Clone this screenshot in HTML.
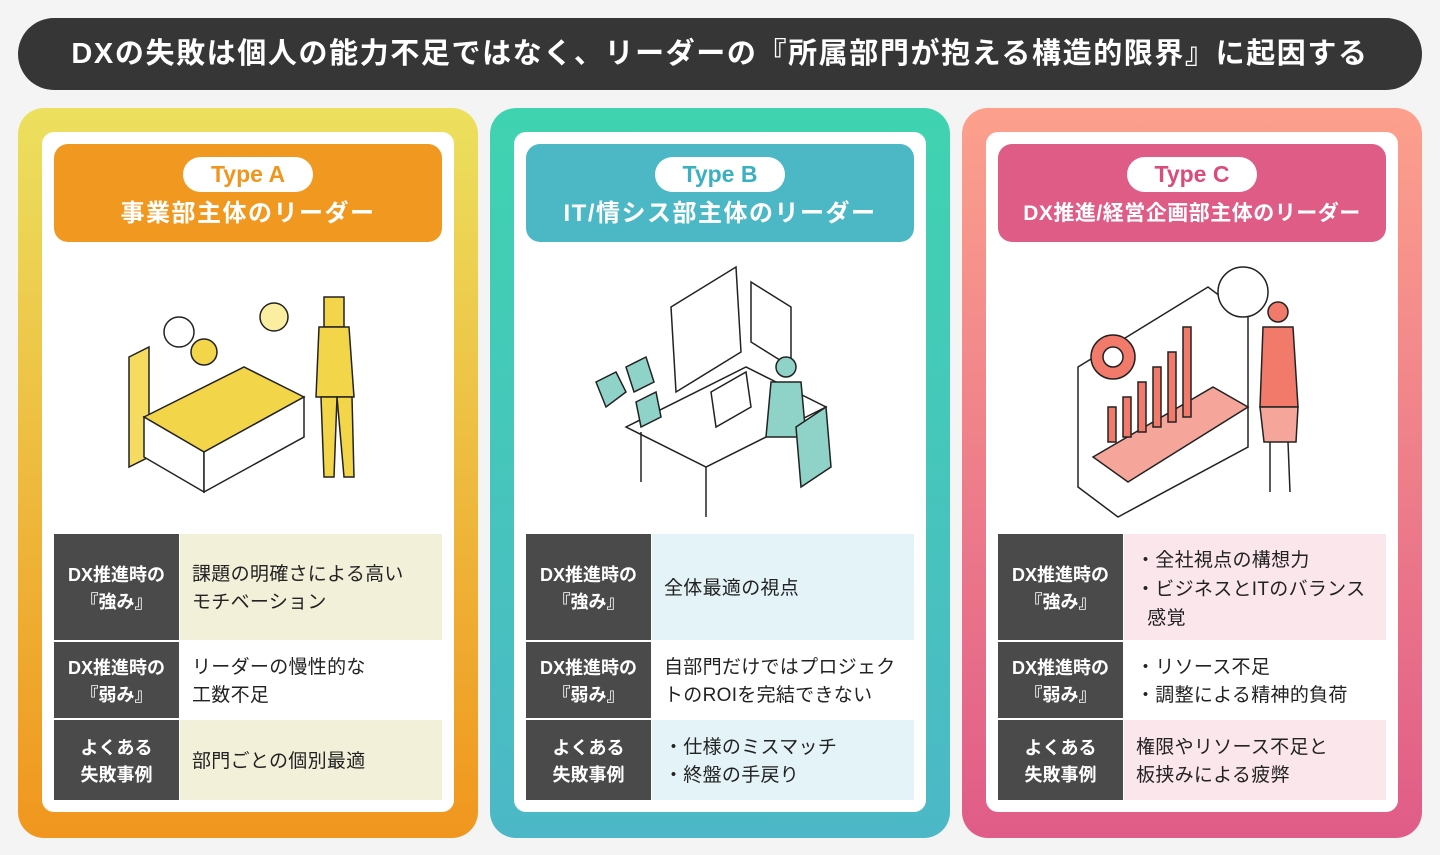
<!DOCTYPE html>
<html><head><meta charset="utf-8"><style>
*{box-sizing:border-box;margin:0;padding:0}
body{width:1440px;height:855px;background:#f4f4f4;font-family:"Liberation Sans","Noto Sans CJK JP",sans-serif;position:relative;overflow:hidden}
.title{position:absolute;left:18px;top:18px;width:1404px;height:72px;border-radius:36px;background:#363636;color:#fff;font-weight:bold;font-size:29px;text-align:center;line-height:72px;letter-spacing:1.6px}
.card{position:absolute;top:108px;width:460px;height:730px;border-radius:26px}
.inner{position:absolute;left:24px;top:24px;width:412px;height:680px;background:#fff;border-radius:12px}
.hd{position:absolute;left:12px;top:12px;width:388px;height:98px;border-radius:14px;color:#fff;text-align:center}
.pill{position:absolute;left:129px;top:13px;width:130px;height:35px;background:#fff;border-radius:18px;font-weight:bold;font-size:23px;line-height:35px}
.sub{position:absolute;left:0;right:0;top:55px;font-weight:bold;font-size:24px;line-height:30px;letter-spacing:1.5px;white-space:nowrap}
.row{position:absolute;left:12px;width:388px}
.l{position:absolute;left:0;top:0;bottom:0;width:125px;background:#4a4a4a;color:#fff;font-weight:bold;font-size:18px;line-height:27px;display:flex;align-items:center;justify-content:center;text-align:center;padding-top:4px}
.r{position:absolute;left:126px;right:0;top:0;bottom:0;font-size:19px;line-height:28px;color:#222;display:flex;align-items:center;padding-left:12px;padding-top:4px;letter-spacing:0.3px}
.ill{position:absolute;left:12px;top:125px;width:388px;height:265px}
</style></head><body>
<div class="title">DXの失敗は個人の能力不足ではなく、リーダーの『所属部門が抱える構造的限界』に起因する</div>

<div class="card" style="left:18px;background:linear-gradient(#ece05e,#f0961e)"><div class="inner">
<div class="hd" style="background:#f0981f"><div class="pill" style="color:#f0961e">Type A</div><div class="sub">事業部主体のリーダー</div></div>
<svg class="ill" viewBox="0 0 388 265">
<g stroke="#222" stroke-width="1.5" fill="#f3d54a">
<polygon points="75,100 95,90 95,200 75,210" fill="#f5dc60"/>
<polygon points="90,160 190,110 250,140 150,195"/>
<polygon points="90,160 150,195 150,235 90,200" fill="#fff"/>
<polygon points="150,195 250,140 250,180 150,235" fill="#fff"/>
<circle cx="125" cy="75" r="15" fill="#fff"/><circle cx="150" cy="95" r="13" fill="#f3d54a"/>
<circle cx="220" cy="60" r="14" fill="#fbeea0"/>
<rect x="270" y="40" width="20" height="30" fill="#f3d54a"/>
<polygon points="265,70 295,70 300,140 262,140" fill="#f3d54a"/>
<polygon points="267,140 283,140 280,220 270,220" fill="#f3d54a"/>
<polygon points="283,140 298,140 300,220 290,220" fill="#f3d54a"/>
</g></svg>
</div></div>

<div class="card" style="left:490px;background:linear-gradient(#3fd3b0,#4cb8c7)"><div class="inner">
<div class="hd" style="background:#4cb8c6"><div class="pill" style="color:#3ab0c0">Type B</div><div class="sub">IT/情シス部主体のリーダー</div></div>
<svg class="ill" viewBox="0 0 388 265">
<g stroke="#222" stroke-width="1.5" fill="#fff">
<polygon points="145,50 210,10 215,95 150,135"/>
<polygon points="225,25 265,50 265,110 225,85"/>
<polygon points="100,170 220,110 300,150 180,210"/>
<line x1="115" y1="175" x2="115" y2="225"/><line x1="180" y1="210" x2="180" y2="260"/><line x1="290" y1="155" x2="290" y2="205"/>
<polygon points="185,135 220,115 225,150 190,170" fill="#fff"/>
<circle cx="260" cy="110" r="10" fill="#8fd3c8"/>
<polygon points="245,125 275,125 280,180 240,180" fill="#8fd3c8"/>
<polygon points="270,170 300,150 305,210 275,230" fill="#8fd3c8"/>
<polygon points="70,125 90,115 100,135 80,150" fill="#8fd3c8"/>
<polygon points="100,110 120,100 128,125 108,135" fill="#8fd3c8"/>
<polygon points="110,145 130,135 135,160 115,170" fill="#8fd3c8"/>
</g></svg>
</div></div>

<div class="card" style="left:962px;background:linear-gradient(#fca08c,#e05c88)"><div class="inner">
<div class="hd" style="background:#de5c86"><div class="pill" style="color:#d94c7c">Type C</div><div class="sub" style="font-size:21px;letter-spacing:0.5px">DX推進/経営企画部主体のリーダー</div></div>
<svg class="ill" viewBox="0 0 388 265">
<g stroke="#222" stroke-width="1.5">
<polygon points="80,110 210,30 250,60 250,190 120,260 80,230" fill="#fff"/>
<polygon points="95,200 215,130 250,150 130,225" fill="#f5a59a"/>
<circle cx="115" cy="100" r="22" fill="#f27a6a"/><circle cx="115" cy="100" r="10" fill="#fff"/>
<rect x="110" y="150" width="8" height="35" fill="#f27a6a"/>
<rect x="125" y="140" width="8" height="40" fill="#f27a6a"/>
<rect x="140" y="125" width="8" height="50" fill="#f27a6a"/>
<rect x="155" y="110" width="8" height="60" fill="#f27a6a"/>
<rect x="170" y="95" width="8" height="70" fill="#f27a6a"/>
<rect x="185" y="70" width="8" height="90" fill="#f27a6a"/>
<circle cx="245" cy="35" r="25" fill="#fff"/>
<circle cx="280" cy="55" r="10" fill="#f27a6a"/>
<polygon points="265,70 295,70 300,150 262,150" fill="#f27a6a"/>
<polygon points="262,150 300,150 298,185 266,185" fill="#f5a59a"/>
<line x1="272" y1="185" x2="272" y2="235"/><line x1="290" y1="185" x2="292" y2="235"/>
</g></svg>
</div></div>

<div style="position:absolute;left:42px;top:132px">
<div class="row" style="top:402px;height:106px"><div class="l">DX推進時の<br>『強み』</div><div class="r" style="background:#f3f0da">課題の明確さによる高い<br>モチベーション</div></div>
<div class="row" style="top:510px;height:76px"><div class="l">DX推進時の<br>『弱み』</div><div class="r">リーダーの慢性的な<br>工数不足</div></div>
<div class="row" style="top:588px;height:80px"><div class="l">よくある<br>失敗事例</div><div class="r" style="background:#f3f0da">部門ごとの個別最適</div></div>
</div>
<div style="position:absolute;left:514px;top:132px">
<div class="row" style="top:402px;height:106px"><div class="l">DX推進時の<br>『強み』</div><div class="r" style="background:#e3f3f7">全体最適の視点</div></div>
<div class="row" style="top:510px;height:76px"><div class="l">DX推進時の<br>『弱み』</div><div class="r">自部門だけではプロジェク<br>トのROIを完結できない</div></div>
<div class="row" style="top:588px;height:80px"><div class="l">よくある<br>失敗事例</div><div class="r" style="background:#e3f3f7">・仕様のミスマッチ<br>・終盤の手戻り</div></div>
</div>
<div style="position:absolute;left:986px;top:132px">
<div class="row" style="top:402px;height:106px"><div class="l">DX推進時の<br>『強み』</div><div class="r" style="background:#fbe6ec;line-height:29px">・全社視点の構想力<br>・ビジネスとITのバランス<br>&nbsp;&nbsp;感覚</div></div>
<div class="row" style="top:510px;height:76px"><div class="l">DX推進時の<br>『弱み』</div><div class="r">・リソース不足<br>・調整による精神的負荷</div></div>
<div class="row" style="top:588px;height:80px"><div class="l">よくある<br>失敗事例</div><div class="r" style="background:#fbe6ec">権限やリソース不足と<br>板挟みによる疲弊</div></div>
</div>
</body></html>
